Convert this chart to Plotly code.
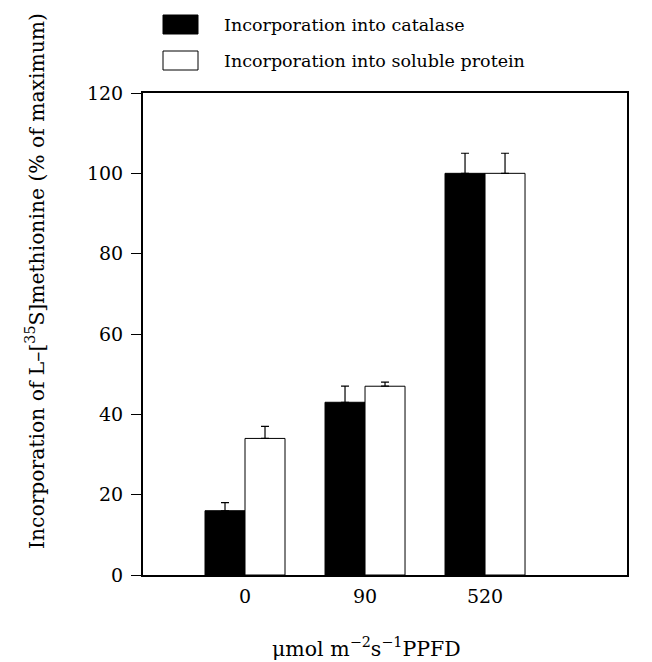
import plotly.graph_objects as go

categories = ["0", "90", "520"]
catalase = [16, 43, 100]
catalase_err = [2, 4, 5]
soluble = [34, 47, 100]
soluble_err = [3, 1, 5]
y_ticks = [0, 20, 40, 60, 80, 100, 120]

FONT = "DejaVu Serif"
xpos = list(range(len(categories)))

L, R, T, B = 143, 627, 93, 575  # plot area in page pixels
PW, PH = R - L, B - T


def px_x(x):
    return (x - L) / PW


def px_y(y):
    return (B - y) / PH


fig = go.Figure()
fig.add_trace(go.Bar(
    x=xpos, y=catalase, name="Incorporation into catalase",
    marker=dict(color="black", line=dict(color="black", width=1)),
    error_y=dict(type="data", array=catalase_err, symmetric=False, arrayminus=[0]*3,
                 color="black", thickness=1.2, width=4),
))
fig.add_trace(go.Bar(
    x=xpos, y=soluble, name="Incorporation into soluble protein",
    marker=dict(color="white", line=dict(color="black", width=1)),
    error_y=dict(type="data", array=soluble_err, symmetric=False, arrayminus=[0]*3,
                 color="black", thickness=1.2, width=4),
))

fig.update_layout(
    width=652, height=662,
    margin=dict(l=L, r=652 - R, t=T, b=662 - B),
    paper_bgcolor="white", plot_bgcolor="white",
    barmode="group", bargap=1/3, bargroupgap=0,
    showlegend=False,
    font=dict(family=FONT, size=18, color="black"),
    xaxis=dict(
        range=[-0.85, 3.183], tickmode="array", tickvals=xpos, ticktext=categories,
        showline=True, linecolor="black", linewidth=2, mirror=True,
        ticks="", showgrid=False, zeroline=False,
        tickfont=dict(family=FONT, size=19), ticklabelstandoff=3,
    ),
    yaxis=dict(
        range=[0, 120], tickmode="array", tickvals=y_ticks,
        showline=True, linecolor="black", linewidth=2, mirror=True,
        ticks="outside", ticklen=10, tickwidth=1, tickcolor="black",
        showgrid=False, zeroline=False,
        tickfont=dict(family=FONT, size=19), ticklabelstandoff=4,
    ),
)

# y-axis title
fig.add_annotation(
    text="Incorporation of L\u2013[<sup>35</sup>S]methionine (% of maximum)",
    xref="paper", yref="paper", x=px_x(35), y=px_y(281), xanchor="center", yanchor="middle",
    textangle=-90, showarrow=False, font=dict(family=FONT, size=20.3),
)
# x-axis title
fig.add_annotation(
    text="\u03bcmol m<sup>\u22122</sup>s<sup>\u22121</sup>PPFD",
    xref="paper", yref="paper", x=px_x(366), y=px_y(647), xanchor="center", yanchor="middle",
    showarrow=False, font=dict(family=FONT, size=20.5),
)

# legend drawn manually
legend_items = [("black", "Incorporation into catalase"),
                ("white", "Incorporation into soluble protein")]
for i, (col, label) in enumerate(legend_items):
    y0 = 15 + i * 36
    fig.add_shape(type="rect", xref="paper", yref="paper",
                  x0=px_x(163), x1=px_x(198),
                  y0=px_y(y0 + 19), y1=px_y(y0),
                  fillcolor=col, line=dict(color="black", width=1))
    fig.add_annotation(text=label, xref="paper", yref="paper",
                       x=px_x(222), y=px_y(y0 + 9.5),
                       xanchor="left", yanchor="middle", showarrow=False,
                       font=dict(family=FONT, size=17.5))

fig.write_html("out.html", config={"displayModeBar": False},
               post_script="document.body.style.margin='0';")
